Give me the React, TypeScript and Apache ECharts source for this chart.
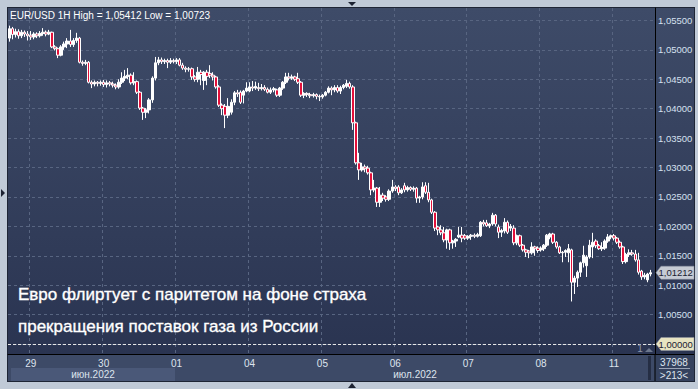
import React, { useEffect, useRef } from "react";
import * as echarts from "echarts";

const FONT = "'Liberation Sans', Arial, sans-serif";

// Trading days shown on the x axis (first day starts at 17:00)
const dayLabels = ["28", "29", "30", "01", "04", "05", "06", "07", "08", "11"];
const firstHour = 17;
const monthLabels = ["июн.2022", "июл.2022"];
const monthFirstDay = [0, 3]; // index into dayLabels where each month starts

// H1 candles: [open, close, low, high]
const jun28 = [
  [1.0520, 1.0536, 1.0514, 1.05412], [1.0536, 1.0526, 1.0518, 1.0539], [1.0526, 1.0531, 1.0521, 1.0536],
  [1.0531, 1.0524, 1.0519, 1.0535], [1.0524, 1.0530, 1.0520, 1.0534], [1.0530, 1.0527, 1.0522, 1.0533],
  [1.0527, 1.0524, 1.0516, 1.0532],
];
const jun29 = [
  [1.0525, 1.0522, 1.0517, 1.0532], [1.0522, 1.0527, 1.0518, 1.0530], [1.0527, 1.0524, 1.0520, 1.0530],
  [1.0524, 1.0528, 1.0521, 1.0532], [1.0528, 1.0530, 1.0524, 1.0537], [1.0530, 1.0527, 1.0523, 1.0533],
  [1.0527, 1.0530, 1.0525, 1.0534], [1.0530, 1.0505, 1.0503, 1.0531], [1.0505, 1.0502, 1.0499, 1.0508],
  [1.0502, 1.0491, 1.0486, 1.0504], [1.0491, 1.0505, 1.0489, 1.0508], [1.0505, 1.0510, 1.0500, 1.0514],
  [1.0510, 1.0515, 1.0503, 1.0520], [1.0515, 1.0509, 1.0505, 1.0534], [1.0509, 1.0516, 1.0505, 1.0520],
  [1.0516, 1.0520, 1.0512, 1.0529], [1.0520, 1.0479, 1.0477, 1.0522], [1.0479, 1.0477, 1.0473, 1.0482],
  [1.0477, 1.0479, 1.0474, 1.0483], [1.0479, 1.0445, 1.0443, 1.0481], [1.0445, 1.0442, 1.0435, 1.0448],
  [1.0442, 1.0445, 1.0438, 1.0448], [1.0445, 1.0443, 1.0438, 1.0447], [1.0443, 1.0445, 1.0439, 1.0448],
];
const jun30 = [
  [1.0445, 1.0441, 1.0437, 1.0449], [1.0441, 1.0444, 1.0436, 1.0448], [1.0444, 1.0442, 1.0438, 1.0447],
  [1.0442, 1.0440, 1.0436, 1.0446], [1.0440, 1.0437, 1.0433, 1.0443], [1.0437, 1.0445, 1.0434, 1.0450],
  [1.0445, 1.0452, 1.0442, 1.0462], [1.0452, 1.0455, 1.0447, 1.0466], [1.0455, 1.0457, 1.0450, 1.0469],
  [1.0457, 1.0444, 1.0441, 1.0460], [1.0444, 1.0446, 1.0440, 1.0462], [1.0446, 1.0428, 1.0425, 1.0448],
  [1.0428, 1.0401, 1.0398, 1.0430], [1.0401, 1.0394, 1.0381, 1.0403], [1.0394, 1.0398, 1.0384, 1.0401],
  [1.0398, 1.0415, 1.0392, 1.0418], [1.0415, 1.0452, 1.0410, 1.0455], [1.0452, 1.0478, 1.0448, 1.0488],
  [1.0478, 1.0483, 1.0474, 1.0488], [1.0483, 1.0480, 1.0476, 1.0487], [1.0480, 1.0482, 1.0476, 1.0485],
  [1.0482, 1.0479, 1.0469, 1.0485], [1.0479, 1.0482, 1.0476, 1.0486], [1.0482, 1.0480, 1.0477, 1.0485],
];
const jul01 = [
  [1.0480, 1.0483, 1.0476, 1.0486], [1.0483, 1.0474, 1.0472, 1.0486], [1.0474, 1.0469, 1.0466, 1.0478],
  [1.0469, 1.0467, 1.0462, 1.0472], [1.0467, 1.0468, 1.0463, 1.0471], [1.0468, 1.0454, 1.0449, 1.0470],
  [1.0454, 1.0450, 1.0446, 1.0457], [1.0450, 1.0462, 1.0445, 1.0471], [1.0462, 1.0458, 1.0440, 1.0466],
  [1.0448, 1.0462, 1.0432, 1.0464], [1.0462, 1.0455, 1.0440, 1.0466], [1.0460, 1.0457, 1.0452, 1.0474],
  [1.0457, 1.0454, 1.0448, 1.0462], [1.0454, 1.0437, 1.0434, 1.0456], [1.0437, 1.0406, 1.0403, 1.0440],
  [1.0406, 1.0400, 1.0389, 1.0409], [1.0404, 1.0389, 1.0367, 1.0408], [1.0389, 1.0404, 1.0384, 1.0418],
  [1.0394, 1.0411, 1.0390, 1.0416], [1.0411, 1.0427, 1.0406, 1.0430], [1.0427, 1.0425, 1.0420, 1.0432],
  [1.0428, 1.0411, 1.0408, 1.0431], [1.0423, 1.0430, 1.0409, 1.0432], [1.0430, 1.0435, 1.0428, 1.0445],
];
const jul04 = [
  [1.0430, 1.0437, 1.0428, 1.0445], [1.0437, 1.0435, 1.0430, 1.0447], [1.0435, 1.0438, 1.0432, 1.0446],
  [1.0436, 1.0434, 1.0430, 1.0444], [1.0434, 1.0436, 1.0431, 1.0442], [1.0436, 1.0433, 1.0430, 1.0440],
  [1.0433, 1.0428, 1.0426, 1.0436], [1.0428, 1.0432, 1.0425, 1.0436], [1.0432, 1.0434, 1.0428, 1.0437],
  [1.0432, 1.0423, 1.0420, 1.0434], [1.0423, 1.0435, 1.0420, 1.0437], [1.0435, 1.0445, 1.0432, 1.0447],
  [1.0445, 1.0454, 1.0442, 1.0461], [1.0454, 1.0452, 1.0448, 1.0461], [1.0452, 1.0454, 1.0449, 1.0458],
  [1.0454, 1.0450, 1.0447, 1.0456], [1.0451, 1.0445, 1.0442, 1.0461], [1.0445, 1.0423, 1.0420, 1.0447],
  [1.0423, 1.0426, 1.0418, 1.0428], [1.0426, 1.0424, 1.0420, 1.0428], [1.0424, 1.0422, 1.0418, 1.0427],
  [1.0422, 1.0424, 1.0419, 1.0427], [1.0424, 1.0421, 1.0416, 1.0426], [1.0421, 1.0420, 1.0413, 1.0424],
];
const jul05 = [
  [1.0420, 1.0423, 1.0417, 1.0425], [1.0423, 1.0428, 1.0421, 1.0430], [1.0428, 1.0435, 1.0426, 1.0438],
  [1.0435, 1.0432, 1.0423, 1.0438], [1.0432, 1.0436, 1.0428, 1.0440], [1.0436, 1.0430, 1.0427, 1.0440],
  [1.0430, 1.0436, 1.0425, 1.0439], [1.0436, 1.0440, 1.0433, 1.0442], [1.0438, 1.0443, 1.0435, 1.0449],
  [1.0443, 1.0437, 1.0434, 1.0446], [1.0437, 1.0376, 1.0364, 1.0440], [1.0376, 1.0308, 1.0305, 1.0378],
  [1.0308, 1.0296, 1.0279, 1.0325], [1.0296, 1.0301, 1.0293, 1.0308], [1.0301, 1.0298, 1.0292, 1.0305],
  [1.0299, 1.0291, 1.0288, 1.0303], [1.0291, 1.0262, 1.0253, 1.0293], [1.0262, 1.0265, 1.0258, 1.0279],
  [1.0265, 1.0241, 1.0233, 1.0267], [1.0241, 1.0253, 1.0233, 1.0267], [1.0253, 1.0248, 1.0243, 1.0257],
  [1.0250, 1.0246, 1.0242, 1.0253], [1.0246, 1.0260, 1.0243, 1.0263], [1.0260, 1.0267, 1.0257, 1.0279],
];
const jul06 = [
  [1.0267, 1.0264, 1.0260, 1.0270], [1.0267, 1.0257, 1.0253, 1.0270], [1.0257, 1.0262, 1.0255, 1.0265],
  [1.0269, 1.0262, 1.0258, 1.0274], [1.0262, 1.0266, 1.0259, 1.0269], [1.0266, 1.0263, 1.0260, 1.0268],
  [1.0263, 1.0265, 1.0259, 1.0268], [1.0265, 1.0248, 1.0240, 1.0267], [1.0248, 1.0250, 1.0240, 1.0252],
  [1.0250, 1.0267, 1.0246, 1.0275], [1.0269, 1.0258, 1.0255, 1.0275], [1.0258, 1.0245, 1.0241, 1.0274],
  [1.0245, 1.0224, 1.0221, 1.0247], [1.0224, 1.0197, 1.0192, 1.0226], [1.0199, 1.0194, 1.0185, 1.0201],
  [1.0194, 1.0189, 1.0185, 1.0202], [1.0189, 1.0177, 1.0173, 1.0199], [1.0177, 1.0194, 1.0162, 1.0196],
  [1.0194, 1.0172, 1.0160, 1.0196], [1.0172, 1.0175, 1.0162, 1.0177], [1.0175, 1.0178, 1.0165, 1.0180],
  [1.0182, 1.0185, 1.0180, 1.0199], [1.0185, 1.0180, 1.0173, 1.0199], [1.0184, 1.0180, 1.0177, 1.0187],
];
const jul07 = [
  [1.0180, 1.0183, 1.0177, 1.0185], [1.0183, 1.0185, 1.0177, 1.0187], [1.0185, 1.0183, 1.0180, 1.0188],
  [1.0183, 1.0186, 1.0181, 1.0189], [1.0184, 1.0207, 1.0182, 1.0209], [1.0207, 1.0204, 1.0200, 1.0211],
  [1.0206, 1.0201, 1.0199, 1.0211], [1.0201, 1.0204, 1.0197, 1.0206], [1.0204, 1.0219, 1.0201, 1.0223],
  [1.0219, 1.0204, 1.0200, 1.0221], [1.0199, 1.0190, 1.0180, 1.0203], [1.0190, 1.0193, 1.0182, 1.0196],
  [1.0192, 1.0207, 1.0188, 1.0214], [1.0207, 1.0190, 1.0187, 1.0210], [1.0197, 1.0200, 1.0192, 1.0204],
  [1.0197, 1.0172, 1.0168, 1.0202], [1.0172, 1.0184, 1.0168, 1.0186], [1.0184, 1.0168, 1.0165, 1.0186],
  [1.0168, 1.0160, 1.0157, 1.0170], [1.0160, 1.0156, 1.0148, 1.0162], [1.0158, 1.0155, 1.0146, 1.0160],
  [1.0155, 1.0165, 1.0152, 1.0173], [1.0165, 1.0162, 1.0150, 1.0167], [1.0163, 1.0159, 1.0155, 1.0166],
];
const jul08 = [
  [1.0160, 1.0163, 1.0157, 1.0166], [1.0162, 1.0168, 1.0158, 1.0170], [1.0168, 1.0185, 1.0165, 1.0187],
  [1.0182, 1.0187, 1.0178, 1.0189], [1.0187, 1.0173, 1.0170, 1.0189], [1.0173, 1.0165, 1.0162, 1.0175],
  [1.0165, 1.0155, 1.0153, 1.0167], [1.0155, 1.0156, 1.0139, 1.0158], [1.0156, 1.0159, 1.0148, 1.0161],
  [1.0155, 1.0162, 1.0139, 1.0170], [1.0160, 1.0105, 1.00723, 1.0162], [1.0105, 1.0112, 1.0085, 1.0116],
  [1.0112, 1.0122, 1.0097, 1.0125], [1.0122, 1.0138, 1.0114, 1.0140], [1.0138, 1.0151, 1.0130, 1.0167],
  [1.0133, 1.0148, 1.0114, 1.0151], [1.0148, 1.0168, 1.0145, 1.0177], [1.0165, 1.0173, 1.0146, 1.0189],
  [1.0175, 1.0167, 1.0163, 1.0178], [1.0167, 1.0162, 1.0160, 1.0170], [1.0162, 1.0164, 1.0158, 1.0173],
  [1.0163, 1.0175, 1.0160, 1.0178], [1.0175, 1.0182, 1.0172, 1.0187], [1.0182, 1.0184, 1.0178, 1.0186],
];
const jul11 = [
  [1.0184, 1.0180, 1.0176, 1.0187], [1.0180, 1.0173, 1.0170, 1.0182], [1.0173, 1.0165, 1.0162, 1.0176],
  [1.0165, 1.0140, 1.0136, 1.0167], [1.0140, 1.0152, 1.0137, 1.0155], [1.0152, 1.0155, 1.0148, 1.0161],
  [1.0155, 1.0153, 1.0150, 1.0160], [1.0153, 1.0143, 1.0140, 1.0160], [1.0143, 1.0122, 1.0118, 1.0155],
  [1.0124, 1.0114, 1.0109, 1.0126], [1.0114, 1.0117, 1.0110, 1.0121], [1.0109, 1.0119, 1.0105, 1.0121],
  [1.0119, 1.01212, 1.0115, 1.0126],
];
const days = [jun28, jun29, jun30, jul01, jul04, jul05, jul06, jul07, jul08, jul11];

const symbolName = "EUR/USD";
const timeframe = "1H";
const highValue = 1.05412;
const lowValue = 1.00723;
const lastPrice = 1.01212;
const parityLevel = 1.0;
const totalBars = "37968";
const visibleBars = ">213<";
const headlineLines = [
  "Евро флиртует с паритетом на фоне страха",
  "прекращения поставок газа из России",
];

const fmt = (v: number) => v.toFixed(5).replace(".", ",");

export default function App() {
  const ref = useRef<HTMLDivElement>(null);

  useEffect(() => {
    const chart = echarts.init(ref.current!, null, { renderer: "svg" });
    const categories: string[] = [];
    const data: any[] = [];
    days.forEach((arr, di) => {
      arr.forEach((c, k) => {
        const h = (di === 0 ? firstHour : 0) + k;
        categories.push(`${dayLabels[di]} ${String(h).padStart(2, "0")}:00`);
        data.push(c);
      });
    });
    categories.push("");
    data.push("-");

    const isDayStart = (v: string) => typeof v === "string" && v.endsWith(" 00:00");
    const gridColor = "#586581";

    chart.setOption({
      animation: false,
      backgroundColor: "transparent",
      textStyle: { fontFamily: FONT },
      grid: { left: 8, right: 43, top: 8, bottom: 35, containLabel: false },
      xAxis: {
        type: "category",
        data: categories,
        boundaryGap: true,
        axisLine: { show: true, lineStyle: { color: "#000000", width: 1 } },
        axisTick: { show: false },
        axisLabel: {
          interval: (_i: number, v: string) => isDayStart(v),
          formatter: (v: string) => v.split(" ")[0],
          color: "#dde4ee",
          fontSize: 10,
          margin: 4,
          fontFamily: FONT,
        },
        splitLine: {
          show: true,
          interval: (_i: number, v: string) => isDayStart(v),
          lineStyle: { color: gridColor, type: [3, 3], width: 1 },
        },
      },
      yAxis: {
        type: "value",
        position: "right",
        min: 0.9983,
        max: 1.05712,
        minInterval: 0.005,
        maxInterval: 0.005,
        splitNumber: 12,
        axisLine: { show: true, lineStyle: { color: "#000000", width: 1 } },
        axisTick: { show: false },
        axisLabel: {
          showMinLabel: false,
          showMaxLabel: false,
          formatter: (v: number) => (Math.abs(v - parityLevel) < 1e-9 ? "" : fmt(v)),
          color: "#d6e0f0",
          fontSize: 9.5,
          margin: 3,
          fontFamily: FONT,
        },
        splitLine: {
          show: true,
          showMinLine: false,
          showMaxLine: false,
          lineStyle: { color: gridColor, type: [3, 3], width: 1 },
        },
      },
      series: [
        {
          type: "candlestick",
          data,
          barWidth: 3,
          itemStyle: {
            color: "#ffffff",
            color0: "#e3103a",
            borderColor: "#ffffff",
            borderColor0: "#ffffff",
            borderWidth: 1,
          },
          markLine: {
            silent: true,
            symbol: ["none", "none"],
            label: { show: false },
            lineStyle: { color: "#e6e6e6", type: [3, 2], width: 1 },
            data: [{ yAxis: parityLevel }],
          },
        },
      ],
    });

    const px = (i: number) => chart.convertToPixel({ xAxisIndex: 0 }, i) as number;
    const py = (v: number) => chart.convertToPixel({ yAxisIndex: 0 }, v) as number;
    const w = px(1) - px(0);
    const dayStartIdx: number[] = [];
    let acc = 0;
    days.forEach((arr) => { dayStartIdx.push(acc); acc += arr.length; });
    const n = categories.length;
    const plotL = px(0) - w / 2;
    const plotR = px(n - 1) + w / 2;
    const junEnd = px(dayStartIdx[monthFirstDay[1]]) - w / 2;
    const junStart = plotL + 3;

    const yLast = py(lastPrice);
    const yPar = py(parityLevel);
    const axisX = plotR;

    const tag = (y: number, fill: string, text: string) => [
      {
        type: "polygon",
        shape: { points: [[axisX + 1, y], [axisX + 6, y - 6.5], [694, y - 6.5], [694, y + 6.5], [axisX + 6, y + 6.5]] },
        style: { fill, stroke: "#8d93a0", lineWidth: 0.5 },
        z: 50,
      },
      {
        type: "text",
        x: axisX + 3.5,
        y,
        style: { text, fill: "#1b2232", font: `9.5px ${FONT}`, verticalAlign: "middle" },
        z: 51,
      },
    ];

    const headStyle = { fill: "#ffffff", font: `17px ${FONT}`, verticalAlign: "middle", stroke: "#ffffff", lineWidth: 0.35 };

    chart.setOption({
      graphic: [
        { type: "rect", shape: { x: junStart, y: 368, width: junEnd - junStart, height: 13 }, style: { fill: "#4a5878" }, z: 1 },
        { type: "text", x: (junStart + junEnd) / 2, y: 374.5, style: { text: monthLabels[0], fill: "#dde4ee", font: `10px ${FONT}`, align: "center", verticalAlign: "middle" }, z: 2 },
        { type: "text", x: (junEnd + plotR) / 2, y: 374.5, style: { text: monthLabels[1], fill: "#dde4ee", font: `10px ${FONT}`, align: "center", verticalAlign: "middle" }, z: 2 },
        { type: "text", x: 10, y: 15, style: { text: `${symbolName} ${timeframe} High = ${fmt(highValue)} Low = ${fmt(lowValue)}`, fill: "#ffffff", font: `10px ${FONT}`, verticalAlign: "middle" }, z: 20 },
        { type: "text", x: 18, y: 294, style: { ...headStyle, text: headlineLines[0] }, z: 20 },
        { type: "text", x: 18, y: 326, style: { ...headStyle, text: headlineLines[1] }, z: 20 },
        ...tag(yLast, "#c6cbd4", fmt(lastPrice)),
        ...tag(yPar, "#e8e4c2", fmt(parityLevel)),
        { type: "line", shape: { x1: axisX, y1: 354, x2: axisX, y2: 381 }, style: { stroke: "#000000", lineWidth: 1 }, z: 30 },
        { type: "line", shape: { x1: axisX, y1: 354.5, x2: 694, y2: 354.5 }, style: { stroke: "#000000", lineWidth: 1 }, z: 30 },
        { type: "rect", shape: { x: plotR - 7, y: 356, width: 3, height: 24 }, style: { fill: "#252e44" }, z: 30 },
        { type: "text", x: 674, y: 362, style: { text: totalBars, fill: "#dde4ee", font: `10px ${FONT}`, align: "center", verticalAlign: "middle" }, z: 30 },
        { type: "line", shape: { x1: 659, y1: 368.5, x2: 690, y2: 368.5 }, style: { stroke: "#9aa4b6", lineWidth: 1 }, z: 30 },
        { type: "text", x: 674, y: 375, style: { text: visibleBars, fill: "#dde4ee", font: `10px ${FONT}`, align: "center", verticalAlign: "middle" }, z: 30 },
        { type: "text", x: plotR - 15, y: yPar + 4, style: { text: "1", fill: "#8c96aa", font: `10px ${FONT}`, align: "center", verticalAlign: "middle" }, z: 30 },
        { type: "polygon", shape: { points: [[plotR - 10, yPar + 8], [plotR - 6, yPar + 4], [plotR - 2, yPar + 8]] }, style: { fill: "#6c778d" }, z: 30 },
        { type: "polygon", shape: { points: [[348, 2], [356, 2], [352, 6]] }, style: { fill: "#1c2232" }, z: 30 },
        { type: "polygon", shape: { points: [[1, 189], [5, 193], [1, 197]] }, style: { fill: "#1c2232" }, z: 30 },
        { type: "polygon", shape: { points: [[348, 388], [352, 383], [356, 388]] }, style: { fill: "#1c2232" }, z: 30 },
      ],
    });

    return () => chart.dispose();
  }, []);

  return (
    <div style={{ position: "fixed", left: 0, top: 0, width: 698, height: 389, background: "#c0cad7", overflow: "hidden" }}>
      <div style={{ position: "absolute", left: 7, top: 7, width: 688, height: 375, background: "#1e2535" }} />
      <div style={{ position: "absolute", left: 8, top: 8, width: 686, height: 346, background: "linear-gradient(#3e4b68, #2a3451)" }} />
      <div style={{ position: "absolute", left: 8, top: 354, width: 647, height: 27, background: "#3d4a67" }} />
      <div style={{ position: "absolute", left: 655, top: 354, width: 39, height: 27, background: "#35425e" }} />
      <div ref={ref} style={{ position: "absolute", left: 0, top: 0, width: 698, height: 389 }} />
    </div>
  );
}
